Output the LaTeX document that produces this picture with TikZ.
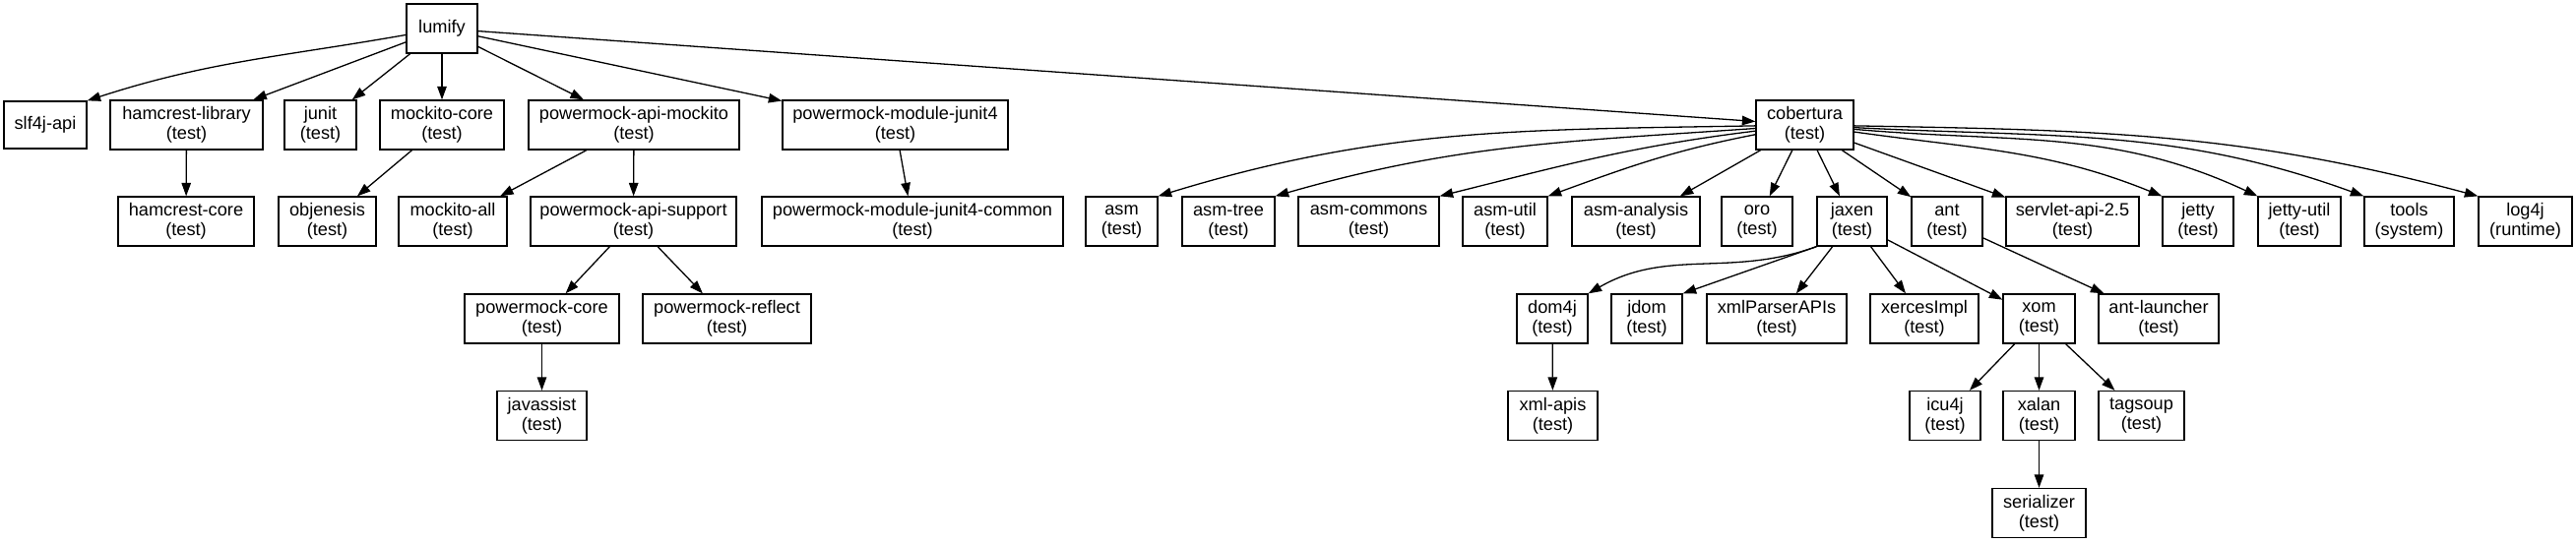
\documentclass[tikz,border=0pt]{standalone}
\usepackage{fontspec}
\setmainfont{Liberation Sans}
\usetikzlibrary{arrows.meta}
\begin{document}
\begin{tikzpicture}[
            x={(1pt,0pt)},
            y={(0pt,-1pt)},
            pkg/.style={draw, line width=1.3pt, fill=white, align=center, inner sep=0pt,
                minimum height=50pt, font=\fontsize{18.2}{20}\selectfont},
            dep/.style={line width=1.3pt, -{Triangle[length=13.5pt,width=9.5pt]}}
        ]
        \useasboundingbox (0,0) rectangle (2617,552);

        \node[pkg, minimum width=72pt] (lumify) at (449,29) {lumify};

        \node[pkg, minimum width=84pt, minimum height=48pt] (slf) at (46,127) {slf4j-api};
        \node[pkg, minimum width=155pt] (hamlib) at (189.5,127) {hamcrest-library\\(test)};
        \node[pkg, minimum width=73pt] (junit) at (325.5,127) {junit\\(test)};
        \node[pkg, minimum width=126pt] (mockcore) at (449,127) {mockito-core\\(test)};
        \node[pkg, minimum width=214pt] (pmmock) at (644,127) {powermock-api-mockito\\(test)};
        \node[pkg, minimum width=229pt] (pmjunit) at (909.5,127) {powermock-module-junit4\\(test)};
        \node[pkg, minimum width=99pt] (cob) at (1833.5,127) {cobertura\\(test)};

        \node[pkg, minimum width=138pt] (hamcore) at (189,225) {hamcrest-core\\(test)};
        \node[pkg, minimum width=99pt] (objen) at (332.5,225) {objenesis\\(test)};
        \node[pkg, minimum width=110pt] (mockall) at (460,225) {mockito-all\\(test)};
        \node[pkg, minimum width=209pt] (pmsupp) at (643.5,225) {powermock-api-support\\(test)};
        \node[pkg, minimum width=306pt] (pmcommon) at (927,225) {powermock-module-junit4-common\\(test)};
        \node[pkg, minimum width=73pt] (asm) at (1139.5,225) {asm\\(test)};
        \node[pkg, minimum width=94pt] (asmtree) at (1248,225) {asm-tree\\(test)};
        \node[pkg, minimum width=143pt] (asmcom) at (1390.5,225) {asm-commons\\(test)};
        \node[pkg, minimum width=86pt] (asmutil) at (1529,225) {asm-util\\(test)};
        \node[pkg, minimum width=130pt] (asmana) at (1662,225) {asm-analysis\\(test)};
        \node[pkg, minimum width=72pt] (oro) at (1785,225) {oro\\(test)};
        \node[pkg, minimum width=71pt] (jaxen) at (1881.5,225) {jaxen\\(test)};
        \node[pkg, minimum width=72pt] (ant) at (1978,225) {ant\\(test)};
        \node[pkg, minimum width=135pt] (servlet) at (2105.5,225) {servlet-api-2.5\\(test)};
        \node[pkg, minimum width=72pt] (jetty) at (2233,225) {jetty\\(test)};
        \node[pkg, minimum width=84pt] (jettyutil) at (2336,225) {jetty-util\\(test)};
        \node[pkg, minimum width=91pt] (tools) at (2447.5,225) {tools\\(system)};
        \node[pkg, minimum width=95pt] (log) at (2565.5,225) {log4j\\(runtime)};

        \node[pkg, minimum width=157pt] (pmcore) at (550.5,324) {powermock-core\\(test)};
        \node[pkg, minimum width=171pt] (pmreflect) at (738.5,324) {powermock-reflect\\(test)};
        \node[pkg, minimum width=72pt] (dom) at (1577,324) {dom4j\\(test)};
        \node[pkg, minimum width=72pt] (jdom) at (1673,324) {jdom\\(test)};
        \node[pkg, minimum width=142pt] (xmlpar) at (1805,324) {xmlParserAPIs\\(test)};
        \node[pkg, minimum width=110pt] (xerces) at (1955,324) {xercesImpl\\(test)};
        \node[pkg, minimum width=73pt] (xom) at (2071.5,324) {xom\\(test)};
        \node[pkg, minimum width=122pt] (antlaunch) at (2193,324) {ant-launcher\\(test)};

        \node[pkg, minimum width=91pt] (javassist) at (550.5,422.5) {javassist\\(test)};
        \node[pkg, minimum width=91pt] (xmlapis) at (1577.5,422.5) {xml-apis\\(test)};
        \node[pkg, minimum width=72pt] (icu) at (1976,422.5) {icu4j\\(test)};
        \node[pkg, minimum width=73pt] (xalan) at (2071.5,422.5) {xalan\\(test)};
        \node[pkg, minimum width=87pt] (tagsoup) at (2175.5,422.5) {tagsoup\\(test)};

        \node[pkg, minimum width=95pt] (serial) at (2071.5,521.5) {serializer\\(test)};

        \draw[dep] (lumify) to[out=190,in=18] (slf.north east);
        \draw[dep] (lumify) -- (hamlib);
        \draw[dep] (lumify) -- (junit);
        \draw[dep] (lumify) -- (mockcore);
        \draw[dep] (lumify) -- (pmmock);
        \draw[dep] (lumify) -- (pmjunit);
        \draw[dep] (lumify) -- (cob);
        \draw[dep] (hamlib) -- (hamcore);
        \draw[dep] (mockcore) -- (objen);
        \draw[dep] (pmmock) -- (mockall);
        \draw[dep] (pmmock) -- (pmsupp);
        \draw[dep] (pmsupp) -- (pmcore);
        \draw[dep] (pmsupp) -- (pmreflect);
        \draw[dep] (pmcore) -- (javassist);
        \draw[dep] (pmjunit) -- (pmcommon);

        \draw[dep] (cob) to[out=181,in=17] (asm.north east);
        \draw[dep] (cob) to[out=184,in=16] (asmtree.north east);
        \draw[dep] (cob) to[out=187,in=14] (asmcom.north east);
        \draw[dep] (cob) to[out=191,in=20] (asmutil.north east);
        \draw[dep] (cob) -- (asmana);
        \draw[dep] (cob) -- (oro);
        \draw[dep] (cob) -- (jaxen);
        \draw[dep] (cob) -- (ant);
        \draw[dep] (cob) -- (servlet);
        \draw[dep] (cob) to[out=-8,in=158] (jetty.north west);
        \draw[dep] (cob) to[out=-5,in=155] (jettyutil.north west);
        \draw[dep] (cob) to[out=-3,in=160] (tools.north west);
        \draw[dep] (cob) to[out=-1,in=165] (log.north west);

        \draw[dep] (jaxen.south west) to[out=200,in=30] (dom.north east);
        \draw[dep] (jaxen.south west) -- (jdom.north east);
        \draw[dep] (jaxen) -- (xmlpar);
        \draw[dep] (jaxen) -- (xerces);
        \draw[dep] (jaxen) -- (xom);
        \draw[dep] (ant) -- (antlaunch);
        \draw[dep] (dom) -- (xmlapis);
        \draw[dep] (xom) -- (icu);
        \draw[dep] (xom) -- (xalan);
        \draw[dep] (xom) -- (tagsoup);
        \draw[dep] (xalan) -- (serial);
    \end{tikzpicture}
\end{document}
